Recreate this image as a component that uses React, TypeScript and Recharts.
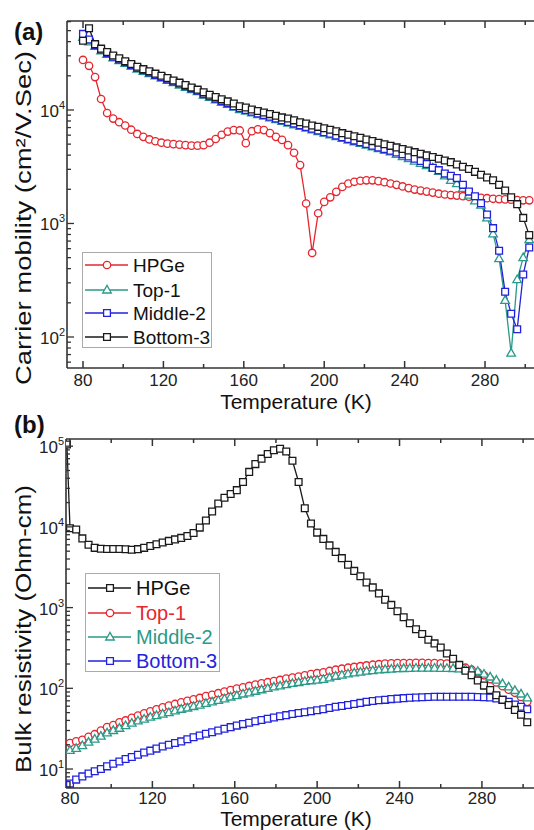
import React from 'react';
import { LineChart, Line, XAxis, YAxis, Legend } from 'recharts';

// temperature grid (K), shared by every series
const temps = [
  80, 83, 86, 89, 92, 95, 98, 101, 104, 107,
  110, 113, 116, 119, 122, 125, 128, 131, 134, 137,
  140, 143, 146, 149, 152, 155, 158, 161, 164, 167,
  170, 173, 176, 179, 182, 185, 188, 191, 194, 197,
  200, 203, 206, 209, 212, 215, 218, 221, 224, 227,
  230, 233, 236, 239, 242, 245, 248, 251, 254, 257,
  260, 263, 266, 269, 272, 275, 278, 281, 284, 287,
  290, 293, 296, 299, 302,
];

// (a) carrier mobility, cm2/V.s
const hpgeMobility = [
  27600, 24500, 19500, 12500, 9400, 8400, 7800, 7300, 6700, 6150,
  5800, 5500, 5300, 5150, 5050, 5000, 4950, 4900, 4850, 4850,
  4900, 5150, 5550, 6050, 6450, 6650, 6600, 5100, 6500, 6750,
  6650, 6250, 5800, 5450, 4900, 4200, 3270, 1500, 550, 1230,
  1550, 1700, 1900, 2100, 2250, 2330, 2380, 2400, 2400, 2360,
  2310, 2250, 2190, 2120, 2050, 1990, 1950, 1910, 1870, 1830,
  1800, 1780, 1760, 1740, 1720, 1700, 1680, 1670, 1650, 1640,
  1630, 1620, 1610, 1600, 1600,
];
const top1Mobility = [
  43600, 39800, 36300, 33100, 30900, 28800, 27200, 25700, 24300, 22900,
  21900, 20900, 20000, 19100, 18200, 17400, 16600, 15800, 15100, 14500,
  13500, 12900, 12300, 11700, 11200, 10600, 10100, 9770, 9440, 9120,
  8810, 8510, 8220, 7940, 7670, 7410, 7160, 6920, 6680, 6460,
  6240, 6030, 5820, 5620, 5430, 5250, 5070, 4900, 4730, 4570,
  4420, 4270, 4070, 3890, 3720, 3550, 3390, 3240, 3090, 2880,
  2630, 2400, 2240, 2040, 1780, 1580, 1450, 1120, 810, 490,
  210, 72, 320, 500, 720,
];
const middle2Mobility = [
  46800, 41700, 37200, 33900, 31600, 29500, 27900, 26300, 24800, 23400,
  22400, 21400, 20400, 19500, 18600, 17800, 17000, 16200, 15500, 14800,
  13800, 13200, 12600, 12000, 11500, 10800, 10350, 10000, 9660, 9330,
  9020, 8710, 8410, 8130, 7850, 7590, 7330, 7080, 6840, 6610,
  6380, 6170, 5960, 5750, 5560, 5370, 5190, 5010, 4840, 4680,
  4520, 4370, 4220, 4070, 3890, 3720, 3550, 3350, 3090, 2950,
  2750, 2630, 2510, 2190, 1910, 1740, 1510, 1200, 910, 575,
  250, 160, 117, 355, 615,
];
const bottom3Mobility = [
  40700, 52500, 38000, 34700, 32400, 30200, 28500, 26900, 25400, 24000,
  22900, 21900, 20900, 20000, 19100, 18200, 17400, 16600, 15800, 15100,
  14300, 13600, 13000, 12400, 11900, 11400, 10800, 10500, 10100, 9800,
  9500, 9200, 8900, 8600, 8400, 8100, 7800, 7600, 7300, 7100,
  6900, 6700, 6500, 6250, 6050, 5860, 5680, 5500, 5320, 5150,
  4990, 4830, 4680, 4530, 4390, 4250, 4110, 3980, 3850, 3720,
  3590, 3470, 3310, 3160, 3020, 2850, 2690, 2540, 2400, 2190,
  1950, 1700, 1480, 1120, 790,
];

// (b) bulk resistivity, Ohm-cm (HPGe has one extra reading just below 80 K)
const hpgeTempsB = [78.5, ...temps];
const hpgeResistivity = [
  105000,
  9600, 9300, 7200, 6000, 5500, 5350, 5320, 5320, 5320, 5280,
  5200, 5300, 5500, 5800, 6100, 6400, 6700, 7000, 7300, 7700,
  8400, 9800, 12000, 15500, 19500, 23000, 25500, 28500, 36000, 48000,
  60000, 70000, 80000, 89000, 93000, 86000, 66000, 36000, 17000, 11000,
  8500, 7100, 5900, 4900, 4100, 3400, 2850, 2450, 2050, 1780,
  1500, 1250, 1080, 900, 760, 640, 540, 470, 400, 360,
  320, 270, 232, 195, 165, 145, 125, 108, 95, 82,
  72, 62, 54, 47, 38,
];
const top1Resistivity = [
  21, 22, 23, 25, 27, 30, 33, 35, 38, 40,
  43, 46, 49, 52, 55, 58, 61, 64, 67, 70,
  73, 76, 80, 83, 87, 91, 95, 99, 103, 107,
  111, 115, 119, 123, 127, 132, 136, 140, 145, 150,
  154, 158, 164, 170, 175, 180, 184, 188, 192, 196,
  199, 202, 204, 205, 206, 206, 207, 207, 206, 205,
  204, 202, 198, 190, 180, 170, 158, 145, 130, 118,
  106, 96, 88, 78, 68,
];
const middle2Resistivity = [
  17, 18, 19.5, 21.5, 23.5, 25.5, 28, 30, 32, 34.5,
  37, 39.5, 41.5, 44, 46, 48, 50, 52.5, 55, 57,
  59.5, 62, 65, 68, 71, 74, 78, 81, 85, 88,
  92, 96, 100, 104, 107, 111, 115, 118, 122, 124,
  126, 129, 135, 141, 146, 151, 155, 159, 163, 166,
  169, 171, 173, 175, 176, 177, 178, 178, 178, 178,
  177, 177, 176, 174, 172, 169, 162, 150, 138, 126,
  114, 104, 94, 85, 76,
];
const bottom3Resistivity = [
  6.6, 7.4, 8.1, 8.8, 9.4, 10, 10.8, 11.6, 12.4, 13.3,
  14.1, 15, 16, 16.9, 17.9, 19, 20, 21, 22, 23.4,
  24.8, 26, 27.3, 28.6, 30, 31.5, 33, 34.5, 36, 37.5,
  39, 40.5, 42, 43.5, 45, 46.5, 48, 49.5, 50.5, 52,
  53.5, 55, 57, 59, 60.5, 62, 64, 66, 68, 69.5,
  71, 72, 73.5, 74.5, 75.5, 76.5, 77, 77.5, 78, 78.5,
  78.5, 78.5, 78.5, 78.5, 78.5, 78.5, 78, 77.5, 77, 75,
  72, 68, 63, 59, 55,
];

const xTicks = [80, 100, 120, 140, 160, 180, 200, 220, 240, 260, 280, 300];
const yTicksA = [
  60, 70, 80, 90, 100, 200, 300, 400, 500, 600, 700, 800, 900,
  1000, 2000, 3000, 4000, 5000, 6000, 7000, 8000, 9000,
  10000, 20000, 30000, 40000, 50000, 60000,
];
const yTicksB = [
  6, 7, 8, 9, 10, 20, 30, 40, 50, 60, 70, 80, 90,
  100, 200, 300, 400, 500, 600, 700, 800, 900,
  1000, 2000, 3000, 4000, 5000, 6000, 7000, 8000, 9000,
  10000, 20000, 30000, 40000, 50000, 60000, 70000, 80000, 90000, 100000,
];

const RED = '#e5262f';
const TEAL = '#2a9a89';
const BLUE = '#2222dd';
const BLACK = '#1a1a1a';
const AXIS = '#333';
const FONT = '"Liberation Sans", Arial, sans-serif';

const rowsA = temps.map((t, i) => ({
  t,
  hpge: hpgeMobility[i],
  top1: top1Mobility[i],
  middle2: middle2Mobility[i],
  bottom3: bottom3Mobility[i],
}));
const rowsB = temps.map((t, i) => ({
  t,
  top1: top1Resistivity[i],
  middle2: middle2Resistivity[i],
  bottom3: bottom3Resistivity[i],
}));
const hpgeRowsB = hpgeTempsB.map((t, i) => ({ t, hpge: hpgeResistivity[i] }));

const markerPath = (shape: string, cx: number, cy: number) => {
  if (shape === 'square') return `M${cx - 3.4},${cy - 3.4}h6.8v6.8h-6.8z`;
  return `M${cx},${cy - 4.6}L${cx + 4.3},${cy + 3}L${cx - 4.3},${cy + 3}z`;
};

const Marker = ({ shape, cx, cy, color }: any) =>
  shape === 'circle' ? (
    <circle cx={cx} cy={cy} r={3.7} fill="#fff" stroke={color} strokeWidth={1.3} />
  ) : (
    <path d={markerPath(shape, cx, cy)} fill="#fff" stroke={color} strokeWidth={1.3} />
  );

const dotFor = (shape: string, color: string) => (p: any) => {
  if (p.cx == null || p.cy == null) return <g key={p.index} />;
  return <Marker key={p.index} shape={shape} cx={p.cx} cy={p.cy} color={color} />;
};

// inward ticks; plot edges are passed in chart coordinates
const xTick = (side: 'top' | 'bottom', plotTop: number, plotBottom: number, labelGap: number) => (p: any) => {
  const v = p.payload.value;
  const x = p.x;
  const major = v % 40 === 0;
  const len = major ? 7 : 4;
  if (side === 'top') {
    return <line x1={x} x2={x} y1={plotTop} y2={plotTop + len} stroke={AXIS} strokeWidth={1.5} />;
  }
  return (
    <g>
      <line x1={x} x2={x} y1={plotBottom} y2={plotBottom - len} stroke={AXIS} strokeWidth={1.5} />
      {major && v <= 280 && (
        <text x={x} y={plotBottom + labelGap} textAnchor="middle" fontFamily={FONT} fontSize={17} fill="#222">
          {v}
        </text>
      )}
    </g>
  );
};

const yTick = (plotLeft: number) => (p: any) => {
  const v = p.payload.value;
  const y = p.y;
  const exp = Math.log10(v);
  const major = Math.abs(exp - Math.round(exp)) < 1e-6;
  const len = major ? 7 : 4;
  return (
    <g>
      <line x1={plotLeft} x2={plotLeft + len} y1={y} y2={y} stroke={AXIS} strokeWidth={1.3} />
      {major && (
        <text x={plotLeft - 2} y={y + 7} textAnchor="end" fontFamily={FONT} fontSize={17} fill="#222">
          10
          <tspan fontSize={11} dy={-8}>{Math.round(exp)}</tspan>
        </text>
      )}
    </g>
  );
};

type Entry = { label: string; color: string; shape: string; textColor: string };

const legendA: Entry[] = [
  { label: 'HPGe', color: RED, shape: 'circle', textColor: '#111' },
  { label: 'Top-1', color: TEAL, shape: 'triangle', textColor: '#111' },
  { label: 'Middle-2', color: BLUE, shape: 'square', textColor: '#111' },
  { label: 'Bottom-3', color: BLACK, shape: 'square', textColor: '#111' },
];
const legendB: Entry[] = [
  { label: 'HPGe', color: BLACK, shape: 'square', textColor: '#111' },
  { label: 'Top-1', color: RED, shape: 'circle', textColor: RED },
  { label: 'Middle-2', color: TEAL, shape: 'triangle', textColor: TEAL },
  { label: 'Bottom-3', color: BLUE, shape: 'square', textColor: BLUE },
];

const LegendBox = ({ entries, w, h, rows, fontSize }: any) => (
  <svg width={w} height={h} style={{ display: 'block' }}>
    <rect x={0.5} y={0.5} width={w - 1} height={h - 1} fill="#fff" stroke="#aaa" strokeWidth={1} />
    {entries.map((e: Entry, i: number) => (
      <g key={e.label}>
        <line x1={3} x2={46} y1={rows[i]} y2={rows[i]} stroke={e.color} strokeWidth={1.4} />
        <Marker shape={e.shape} cx={25} cy={rows[i]} color={e.color} />
        <text x={51} y={rows[i] + 7} fontFamily={FONT} fontSize={fontSize} fill={e.textColor}>
          {e.label}
        </text>
      </g>
    ))}
  </svg>
);

const yTitle = (text: string, x: number, y: number, len: number) => () => (
  <text
    x={x}
    y={y}
    transform={`rotate(-90 ${x} ${y})`}
    textAnchor="middle"
    fontFamily={FONT}
    fontSize={22}
    fill="#111"
    textLength={len}
    lengthAdjust="spacingAndGlyphs"
  >
    {text}
  </text>
);

const xTitle = (y: number) => () => (
  <text x={296} y={y} textAnchor="middle" fontFamily={FONT} fontSize={21} fill="#111">
    Temperature (K)
  </text>
);

const panelLabel = (text: string, y: number) => () => (
  <text x={14} y={y} fontFamily={FONT} fontSize={24} fontWeight="bold" fill="#111">
    {text}
  </text>
);

export default function App() {
  // plot a: x 67..540, y 21..368 ; plot b: x 66..540, y 439..788 (page coords)
  const A = { top: 20, left: 66, right: 20, bottom: 46 };
  const B = { top: 38, left: 65, right: 20, bottom: 41 };
  return (
    <div style={{ position: 'absolute', left: 0, top: 0, width: 534, height: 830, overflow: 'hidden', background: '#fff' }}>
      <div style={{ position: 'absolute', left: 0, top: 0 }}>
        <LineChart width={560} height={415} data={rowsA} margin={A}>
          <XAxis
            dataKey="t"
            type="number"
            domain={[72.04, 307.35]}
            allowDataOverflow
            ticks={xTicks}
            interval={0}
            height={1}
            axisLine={{ stroke: AXIS, strokeWidth: 1.6 }}
            tickLine={false}
            tick={xTick('bottom', 21, 368, 18)}
            label={{ content: xTitle(409) }}
          />
          <XAxis
            xAxisId="top"
            orientation="top"
            dataKey="t"
            type="number"
            domain={[72.04, 307.35]}
            allowDataOverflow
            ticks={xTicks}
            interval={0}
            height={1}
            axisLine={{ stroke: AXIS, strokeWidth: 1.6 }}
            tickLine={false}
            tick={xTick('top', 21, 368, 18)}
            label={{ content: panelLabel('(a)', 40) }}
          />
          <YAxis
            scale="log"
            type="number"
            domain={[53.3, 60800]}
            allowDataOverflow
            ticks={yTicksA}
            interval={0}
            width={1}
            axisLine={{ stroke: AXIS, strokeWidth: 1.6 }}
            tickLine={false}
            tick={yTick(67)}
            label={{ content: yTitle('Carrier mobility (cm²/V.Sec)', 31, 218, 334) }}
          />
          <Line dataKey="hpge" stroke={RED} strokeWidth={1.3} dot={dotFor('circle', RED)} isAnimationActive={false} />
          <Line dataKey="top1" stroke={TEAL} strokeWidth={1.3} dot={dotFor('triangle', TEAL)} isAnimationActive={false} />
          <Line dataKey="middle2" stroke={BLUE} strokeWidth={1.3} dot={dotFor('square', BLUE)} isAnimationActive={false} />
          <Line dataKey="bottom3" stroke={BLACK} strokeWidth={1.3} dot={dotFor('square', BLACK)} isAnimationActive={false} />
          <Legend
            layout="vertical"
            align="center"
            verticalAlign="middle"
            wrapperStyle={{ left: 82, top: 252, width: 130, height: 96 }}
            content={() => <LegendBox entries={legendA} w={130} h={96} rows={[13, 38, 61, 85]} fontSize={19} />}
          />
        </LineChart>
      </div>
      <div style={{ position: 'absolute', left: 0, top: 400 }}>
        <LineChart width={560} height={430} data={rowsB} margin={B}>
          <XAxis
            dataKey="t"
            type="number"
            domain={[78.06, 308.2]}
            allowDataOverflow
            ticks={xTicks}
            interval={0}
            height={1}
            axisLine={{ stroke: AXIS, strokeWidth: 1.6 }}
            tickLine={false}
            tick={xTick('bottom', 39, 388, 15.5)}
            label={{ content: xTitle(426) }}
          />
          <XAxis
            xAxisId="top"
            orientation="top"
            dataKey="t"
            type="number"
            domain={[78.06, 308.2]}
            allowDataOverflow
            ticks={xTicks}
            interval={0}
            height={1}
            axisLine={{ stroke: AXIS, strokeWidth: 1.6 }}
            tickLine={false}
            tick={xTick('top', 39, 388, 15.5)}
            label={{ content: panelLabel('(b)', 33) }}
          />
          <YAxis
            scale="log"
            type="number"
            domain={[5.82, 122700]}
            allowDataOverflow
            ticks={yTicksB}
            interval={0}
            width={1}
            axisLine={{ stroke: AXIS, strokeWidth: 1.6 }}
            tickLine={false}
            tick={yTick(66)}
            label={{ content: yTitle('Bulk resistivity (Ohm-cm)', 31, 229, 288) }}
          />
          <Line dataKey="top1" stroke={RED} strokeWidth={1.3} dot={dotFor('circle', RED)} isAnimationActive={false} />
          <Line dataKey="middle2" stroke={TEAL} strokeWidth={1.3} dot={dotFor('triangle', TEAL)} isAnimationActive={false} />
          <Line dataKey="bottom3" stroke={BLUE} strokeWidth={1.3} dot={dotFor('square', BLUE)} isAnimationActive={false} />
          <Line data={hpgeRowsB} dataKey="hpge" stroke={BLACK} strokeWidth={1.3} dot={dotFor('square', BLACK)} isAnimationActive={false} />
          <Legend
            layout="vertical"
            align="center"
            verticalAlign="middle"
            wrapperStyle={{ left: 85, top: 173, width: 135, height: 99 }}
            content={() => <LegendBox entries={legendB} w={135} h={99} rows={[15, 40, 64, 88]} fontSize={20} />}
          />
        </LineChart>
      </div>
    </div>
  );
}
